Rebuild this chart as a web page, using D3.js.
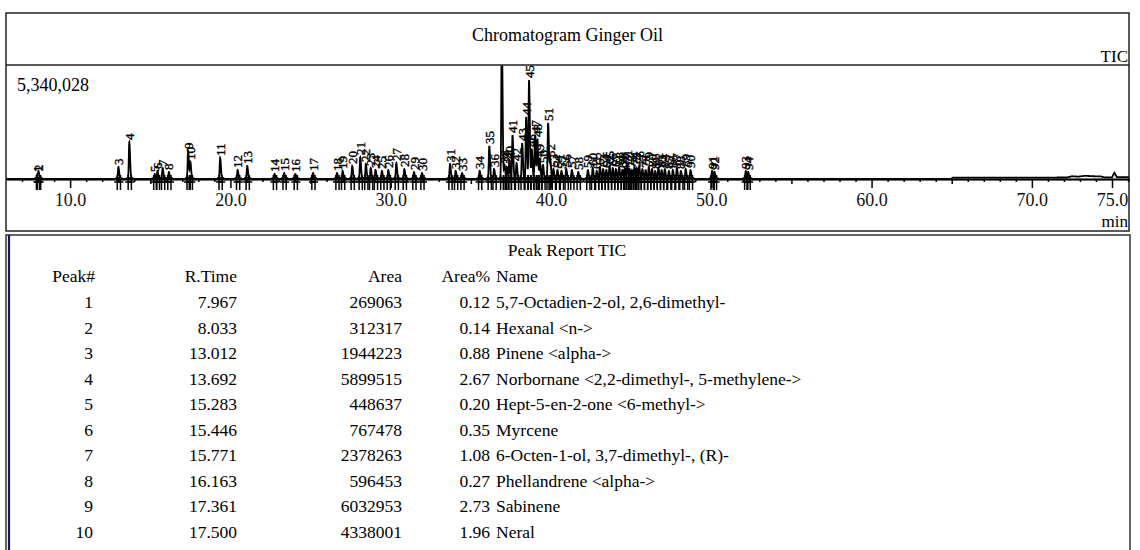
<!DOCTYPE html>
<html><head><meta charset="utf-8">
<script src="https://cdn.jsdelivr.net/npm/d3@7"></script>
<style>
html,body{margin:0;padding:0;background:#fff;}
svg{display:block;font-family:"Liberation Serif","Times New Roman",serif;}
</style></head><body>
<svg id="c" width="1140" height="550"></svg>
<script>
// ---------- data ----------
const chartTitle = "Chromatogram Ginger Oil";
const signalName = "TIC";
const yMaxValue = 5340028;
const xDomain = [6.0, 76.06];
const xTickValues = [10, 20, 30, 40, 50, 60, 70, 75];
const xMidTicks = [15, 25, 35, 45, 55, 65];
const xUnit = "min";

const peakTimes = [
  7.967, 8.033, 13.012, 13.692, 15.283, 15.446, 15.771, 16.163, 17.361, 17.500,
  19.36, 20.45, 21.05, 22.75, 23.35, 24.05, 25.15, 26.65, 27.0, 27.6,
  28.1, 28.45, 28.75, 29.05, 29.45, 29.85, 30.35, 30.85, 31.45, 31.95,
  33.7, 34.05, 34.45, 35.55, 36.15, 36.45, 36.93, 37.1, 37.25, 37.4,
  37.6, 37.85, 38.2, 38.45, 38.63, 38.8, 39.0, 39.15, 39.3, 39.5,
  39.82, 39.95, 40.15, 40.4, 40.65, 40.95, 41.3, 41.7,
  42.3, 42.6, 42.85, 43.05, 43.25, 43.45, 43.65, 43.85, 44.05, 44.25,
  44.45, 44.6, 44.75, 44.9, 45.05, 45.2, 45.35, 45.5, 45.7, 45.9,
  46.1, 46.3, 46.5, 46.7, 46.9, 47.1, 47.35, 47.6, 47.85, 48.1,
  48.4, 48.7,
  50.05, 50.2, 52.15, 52.3
];
const peakHeights = [
  234000, 281000, 562000, 1733000, 234000, 375000, 515000, 328000, 1312000, 796000,
  984000, 422000, 609000, 234000, 281000, 234000, 281000, 281000, 375000, 609000,
  1031000, 703000, 515000, 422000, 375000, 422000, 749000, 468000, 328000, 281000,
  703000, 375000, 281000, 375000, 1546000, 468000, 7026000, 656000, 562000, 843000,
  2061000, 749000, 1686000, 2904000, 4637000, 1405000, 2061000, 1874000, 937000, 656000,
  2623000, 937000, 468000, 422000, 375000, 468000, 422000, 328000,
  422000, 515000, 375000, 562000, 468000, 422000, 609000, 515000, 468000, 562000,
  422000, 515000, 656000, 468000, 422000, 562000, 515000, 609000, 468000, 422000,
  562000, 468000, 375000, 515000, 422000, 468000, 375000, 422000, 515000, 375000,
  468000, 422000,
  375000, 328000, 375000, 328000
];
const peakLabels = peakTimes.map((d, i) => String(i + 1));

const driftTimes  = [6, 64.95, 65.05, 72.2, 72.5, 72.9, 73.3, 73.8, 74.3, 74.5, 75.0, 75.15, 75.3, 76.1];
const driftValues = [0, 0, 60000, 70000, 130000, 110000, 150000, 130000, 120000, 80000, 80000, 300000, 90000, 90000];

const tableTitle = "Peak Report TIC";
const tableHeaders = ["Peak#", "R.Time", "Area", "Area%", "Name"];
const tablePeak = [1, 2, 3, 4, 5, 6, 7, 8, 9, 10];
const tableRTime = ["7.967", "8.033", "13.012", "13.692", "15.283", "15.446", "15.771", "16.163", "17.361", "17.500"];
const tableArea = [269063, 312317, 1944223, 5899515, 448637, 767478, 2378263, 596453, 6032953, 4338001];
const tableAreaPct = ["0.12", "0.14", "0.88", "2.67", "0.20", "0.35", "1.08", "0.27", "2.73", "1.96"];
const tableName = [
  "5,7-Octadien-2-ol, 2,6-dimethyl-",
  "Hexanal <n->",
  "Pinene <alpha->",
  "Norbornane <2,2-dimethyl-, 5-methylene->",
  "Hept-5-en-2-one <6-methyl->",
  "Myrcene",
  "6-Octen-1-ol, 3,7-dimethyl-, (R)-",
  "Phellandrene <alpha->",
  "Sabinene",
  "Neral"
];

// ---------- layout ----------
const svg = d3.select("#c");
const FONT = "Liberation Serif, Times New Roman, serif";
const panel = {left: 6, right: 1129, top: 13, titleBottom: 65, bottom: 231};
const baseY = 179;

const x = d3.scaleLinear().domain(xDomain).range([panel.left, panel.right]);
const y = d3.scaleLinear().domain([0, yMaxValue]).range([baseY, panel.titleBottom]);

// chart panel frame
svg.append("rect").attr("x", panel.left).attr("y", panel.top)
  .attr("width", panel.right - panel.left).attr("height", panel.bottom - panel.top)
  .attr("fill", "none").attr("stroke", "#222").attr("stroke-width", 1.5);
svg.append("line").attr("x1", panel.left).attr("x2", panel.right)
  .attr("y1", panel.titleBottom).attr("y2", panel.titleBottom)
  .attr("stroke", "#222").attr("stroke-width", 1.5);

svg.append("text").attr("x", (panel.left + panel.right) / 2).attr("y", 35)
  .attr("text-anchor", "middle").attr("dominant-baseline", "central")
  .attr("font-size", 18).attr("font-family", FONT).text(chartTitle);
svg.append("text").attr("x", panel.right - 1).attr("y", 56)
  .attr("text-anchor", "end").attr("dominant-baseline", "central")
  .attr("font-size", 17).attr("font-family", FONT).text(signalName);
svg.append("text").attr("x", 17).attr("y", 85)
  .attr("dominant-baseline", "central")
  .attr("font-size", 18).attr("font-family", FONT).text(d3.format(",")(yMaxValue));

// clip
svg.append("clipPath").attr("id", "plotclip").append("rect")
  .attr("x", panel.left).attr("y", panel.titleBottom + 0.5)
  .attr("width", panel.right - panel.left).attr("height", panel.bottom - panel.titleBottom - 1);

const plot = svg.append("g").attr("clip-path", "url(#plotclip)");

// signal
const drift = d3.scaleLinear().domain(driftTimes).range(driftValues).clamp(true);
const sigma = 0.03;
const samples = d3.range(xDomain[0], xDomain[1], 0.008).map(t => {
  let v = drift(t);
  for (let i = 0; i < peakTimes.length; i++) {
    const dt = t - peakTimes[i];
    if (Math.abs(dt) < 0.3) {
      const s = dt < 0 ? sigma : sigma * 1.6;
      v += peakHeights[i] * Math.exp(-0.5 * (dt / s) * (dt / s));
    }
  }
  return [t, v];
});

// axis (baseline + ticks)
const axisG = svg.append("g").attr("transform", `translate(0,${baseY})`);
axisG.call(d3.axisBottom(x).tickValues(d3.range(7, 77, 1).filter(d => !xTickValues.includes(d) && !xMidTicks.includes(d)))
  .tickSize(3).tickSizeOuter(0).tickFormat(""));
const midG = svg.append("g").attr("transform", `translate(0,${baseY})`);
midG.call(d3.axisBottom(x).tickValues(xMidTicks).tickSize(5).tickSizeOuter(0).tickFormat(""));
const majG = svg.append("g").attr("transform", `translate(0,${baseY})`);
majG.call(d3.axisBottom(x).tickValues(xTickValues).tickSize(9).tickSizeOuter(0).tickPadding(5)
  .tickFormat(d3.format(".1f")));
[axisG, midG, majG].forEach(g => {
  g.selectAll("path.domain").attr("stroke", "#000").attr("stroke-width", 1.6);
  g.selectAll(".tick line").attr("stroke", "#000").attr("stroke-width", 1.5);
});
majG.selectAll(".tick text").attr("font-family", FONT).attr("font-size", 18).attr("fill", "#111");

svg.append("text").attr("x", panel.right - 1).attr("y", 221)
  .attr("text-anchor", "end").attr("dominant-baseline", "central")
  .attr("font-size", 17).attr("font-family", FONT).text(xUnit);

plot.append("path").datum(samples)
  .attr("d", d3.line().x(d => x(d[0])).y(d => y(d[1])))
  .attr("fill", "none").attr("stroke", "#000").attr("stroke-width", 1.8);

// peak start / end markers
const markers = [];
peakTimes.forEach(t => { markers.push(t - 0.07); markers.push(t + 0.13); });
plot.append("g").selectAll("path").data(markers).join("path")
  .attr("d", t => {
    const px = x(t);
    return `M${px},${baseY - 4}V${baseY + 11}M${px - 3},${baseY + 3}H${px + 3}M${px - 2},${baseY - 1}H${px + 2}`;
  })
  .attr("stroke", "#000").attr("stroke-width", 1.5).attr("fill", "none");

// peak labels
plot.append("g").selectAll("text").data(peakTimes).join("text")
  .attr("transform", (t, i) => `translate(${x(t)},${y(peakHeights[i] + drift(t)) - 2}) rotate(-90)`)
  .attr("dy", "0.35em")
  .attr("font-size", 13).attr("font-family", FONT).attr("fill", "#000")
  .attr("stroke", "#000").attr("stroke-width", 0.35)
  .text((t, i) => peakLabels[i]);

// ---------- table ----------
const tb = {left: 6, right: 1130, top: 235};
svg.append("rect").attr("x", tb.left).attr("y", tb.top)
  .attr("width", tb.right - tb.left).attr("height", 330)
  .attr("fill", "none").attr("stroke", "#333").attr("stroke-width", 1.5);
svg.append("line").attr("x1", tb.left + 3).attr("x2", tb.left + 3)
  .attr("y1", tb.top).attr("y2", 550)
  .attr("stroke", "#14146e").attr("stroke-width", 2.2);

svg.append("text").attr("x", 567).attr("y", 250)
  .attr("text-anchor", "middle").attr("dominant-baseline", "central")
  .attr("font-size", 17.5).attr("font-family", FONT).text(tableTitle);

const colX = [93, 237, 402, 490, 496];
const colAnchor = ["end", "end", "end", "end", "start"];
const headerY = 276, row0 = 302, rowH = 25.5;
const T = svg.append("g").attr("font-family", FONT).attr("font-size", 17.5).attr("fill", "#000");
tableHeaders.forEach((h, j) => {
  T.append("text").attr("x", j === 0 ? colX[0] + 2 : colX[j]).attr("y", headerY)
    .attr("text-anchor", colAnchor[j]).attr("dominant-baseline", "central").text(h);
});
const rows = tablePeak.map((p, i) => [String(p), tableRTime[i], String(tableArea[i]), tableAreaPct[i], tableName[i]]);
rows.forEach((r, i) => {
  r.forEach((c, j) => {
    T.append("text").attr("x", colX[j]).attr("y", row0 + i * rowH)
      .attr("text-anchor", colAnchor[j]).attr("dominant-baseline", "central")
      .attr("xml:space", "preserve").text(c);
  });
});
</script>
</body></html>
